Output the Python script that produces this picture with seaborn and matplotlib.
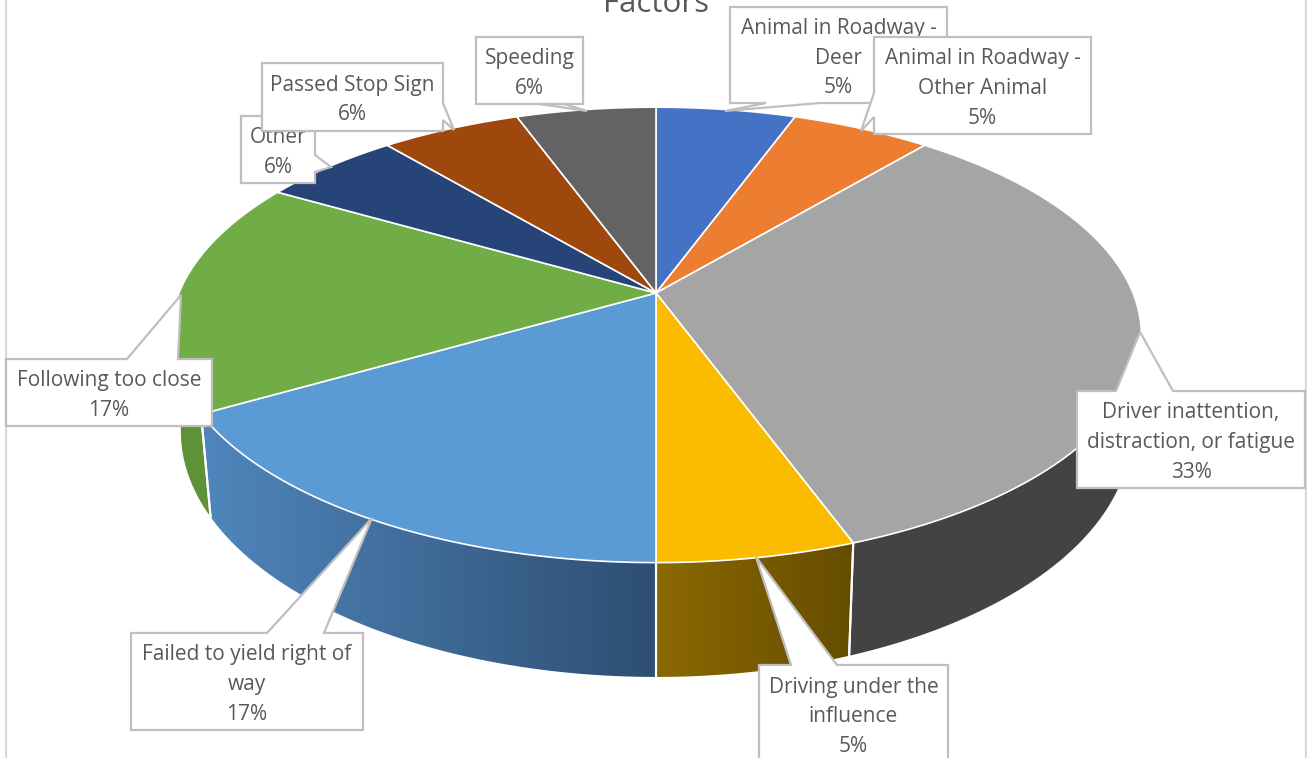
import numpy as np
import matplotlib
matplotlib.use("Agg")
import matplotlib.pyplot as plt
from matplotlib.patches import Polygon
import seaborn as sns

# ---- data ----
title = "Factors"
categories = ["Animal in Roadway -\nDeer", "Animal in Roadway -\nOther Animal",
              "Driver inattention,\ndistraction, or fatigue", "Driving under the\ninfluence",
              "Failed to yield right of\nway", "Following too close", "Other",
              "Passed Stop Sign", "Speeding"]
counts = [1, 1, 6, 1, 3, 3, 1, 1, 1]
pct_labels = ["5%", "5%", "33%", "5%", "17%", "17%", "6%", "6%", "6%"]
top_colors = ["#4472C4", "#ED7D31", "#A5A5A5", "#FBBC00", "#5B9BD5", "#70AD47",
              "#264478", "#9E480E", "#636363"]
side_left = ["#2F5597", "#B85F20", "#434343", "#8B6900", "#4F86BC", "#5F9238",
             "#1A2F55", "#6E320A", "#454545"]
side_right = ["#2F5597", "#B85F20", "#434343", "#664C00", "#2E4E72", "#5F9238",
              "#1A2F55", "#6E320A", "#454545"]

# ---- layout (pixels) ----
W, H = 1307, 758
CX, CY, TOP_A, TOP_B = 656, 293, 477, 220
BOT_Y, BOT_A, BOT_B = 386.5, 467, 237
K = 0.184
GREY = "#BFBFBF"
TEXT = "#595959"
# box (x0, y0, x1, y1), pointer (edge, p1, tip, p2)
callouts = [
    ((730, 7, 947, 103), [(820, 103), (725, 111), (766, 103)]),
    ((874, 37, 1091, 134), [(874, 117), (861, 131), (874, 93)]),
    ((1077, 391, 1305, 488), [(1116, 391), (1140, 332), (1173, 391)]),
    ((759, 665, 948, 764), [(791, 665), (756, 557), (837, 665)]),
    ((131, 633, 363, 730), [(267, 633), (372, 518), (324, 633)]),
    ((6, 359, 212, 426), [(127, 359), (181, 295), (178, 359)]),
    ((241, 116, 315, 183), [(315, 155), (331, 167), (315, 172)]),
    ((262, 63, 443, 131), [(443, 103), (454, 130), (443, 120)]),
    ((476, 37, 583, 104), [(539, 104), (587, 111), (564, 104)]),
]

sns.set_theme(style="white")
plt.rcParams["font.family"] = ["Open Sans", "DejaVu Sans"]

fig = plt.figure(figsize=(W / 100, H / 100), dpi=100, facecolor="white")
ax = fig.add_axes([0, 0, 1, 1])


def top_xy(theta):
    u, v = np.sin(theta), -np.cos(theta)
    d = 1 - K * v
    return CX + TOP_A * u / d, CY + TOP_B * v / d


def bot_xy(theta):
    u, v = np.sin(theta), -np.cos(theta)
    d = 1 - K * v
    return CX + BOT_A * u / d, BOT_Y + BOT_B * v / d


edges = np.deg2rad(np.cumsum([0] + counts) / sum(counts) * 360)
VIS0, VIS1 = np.deg2rad(100), np.deg2rad(260)

# rim of the disc
for i in range(len(counts)):
    a, b = max(edges[i], VIS0), min(edges[i + 1], VIS1)
    if a >= b:
        continue
    th = np.linspace(a, b, 120)
    tx, ty = top_xy(th)
    bx, by = bot_xy(th)
    pts = np.column_stack([np.r_[tx, bx[::-1]], np.r_[ty, by[::-1]]])
    clip = Polygon(pts, closed=True, transform=ax.transData, facecolor="none", edgecolor="none")
    cmap = sns.blend_palette([side_left[i], side_right[i]], as_cmap=True)
    # the gradient runs left to right on screen
    x0, x1 = pts[:, 0].min(), pts[:, 0].max()
    im = ax.imshow(np.linspace(0, 1, 256)[None, :], cmap=cmap, aspect="auto",
                   extent=(x0, x1, pts[:, 1].max(), pts[:, 1].min()), zorder=1)
    im.set_clip_path(clip)
    ax.add_patch(clip)
    for t in (a, b):
        if VIS0 < t < VIS1:
            p, q = top_xy(t), bot_xy(t)
            ax.plot([p[0], q[0]], [p[1], q[1]], color="white", lw=1.5, zorder=2)

# top face
palette = sns.color_palette(top_colors)
for i in range(len(counts)):
    th = np.linspace(edges[i], edges[i + 1], 200)
    tx, ty = top_xy(th)
    pts = np.column_stack([np.r_[CX, tx], np.r_[CY, ty]])
    ax.add_patch(Polygon(pts, closed=True, facecolor=palette[i], edgecolor="white",
                         lw=1.2, joinstyle="round", zorder=3))

# chart border
for x in (6, 1306):
    ax.plot([x, x], [0, H], color="#D9D9D9", lw=1.6, zorder=4)

ax.text(CX, 12, title, ha="center", va="baseline", fontsize=22.5, color=TEXT, zorder=5)

# callout labels
for i, (box, ptr) in enumerate(callouts):
    x0, y0, x1, y1 = box
    (px, py) = ptr[0]
    if py == y0:
        outline = [(x0, y0), ptr[0], ptr[1], ptr[2], (x1, y0), (x1, y1), (x0, y1)]
    elif py == y1:
        outline = [(x0, y0), (x1, y0), (x1, y1), ptr[0], ptr[1], ptr[2], (x0, y1)]
    elif px == x1:
        outline = [(x0, y0), (x1, y0), ptr[0], ptr[1], ptr[2], (x1, y1), (x0, y1)]
    else:
        outline = [(x0, y0), (x1, y0), (x1, y1), (x0, y1), ptr[0], ptr[1], ptr[2]]
    z = 6 + i * 0.1
    ax.add_patch(Polygon(outline, closed=True, facecolor="white", edgecolor=GREY,
                         lw=1.6, joinstyle="miter", zorder=z))
    ax.text((x0 + x1) / 2, min((y0 + y1) / 2 + 3, 717), f"{categories[i]}\n{pct_labels[i]}",
            ha="center", va="center", fontsize=15.0, color=TEXT, linespacing=1.56,
            zorder=z + 0.05)

ax.set_xlim(0, W)
ax.set_ylim(H, 0)
ax.axis("off")
sns.despine(ax=ax, left=True, bottom=True)
fig.savefig("out.png", dpi=100, facecolor="white")
